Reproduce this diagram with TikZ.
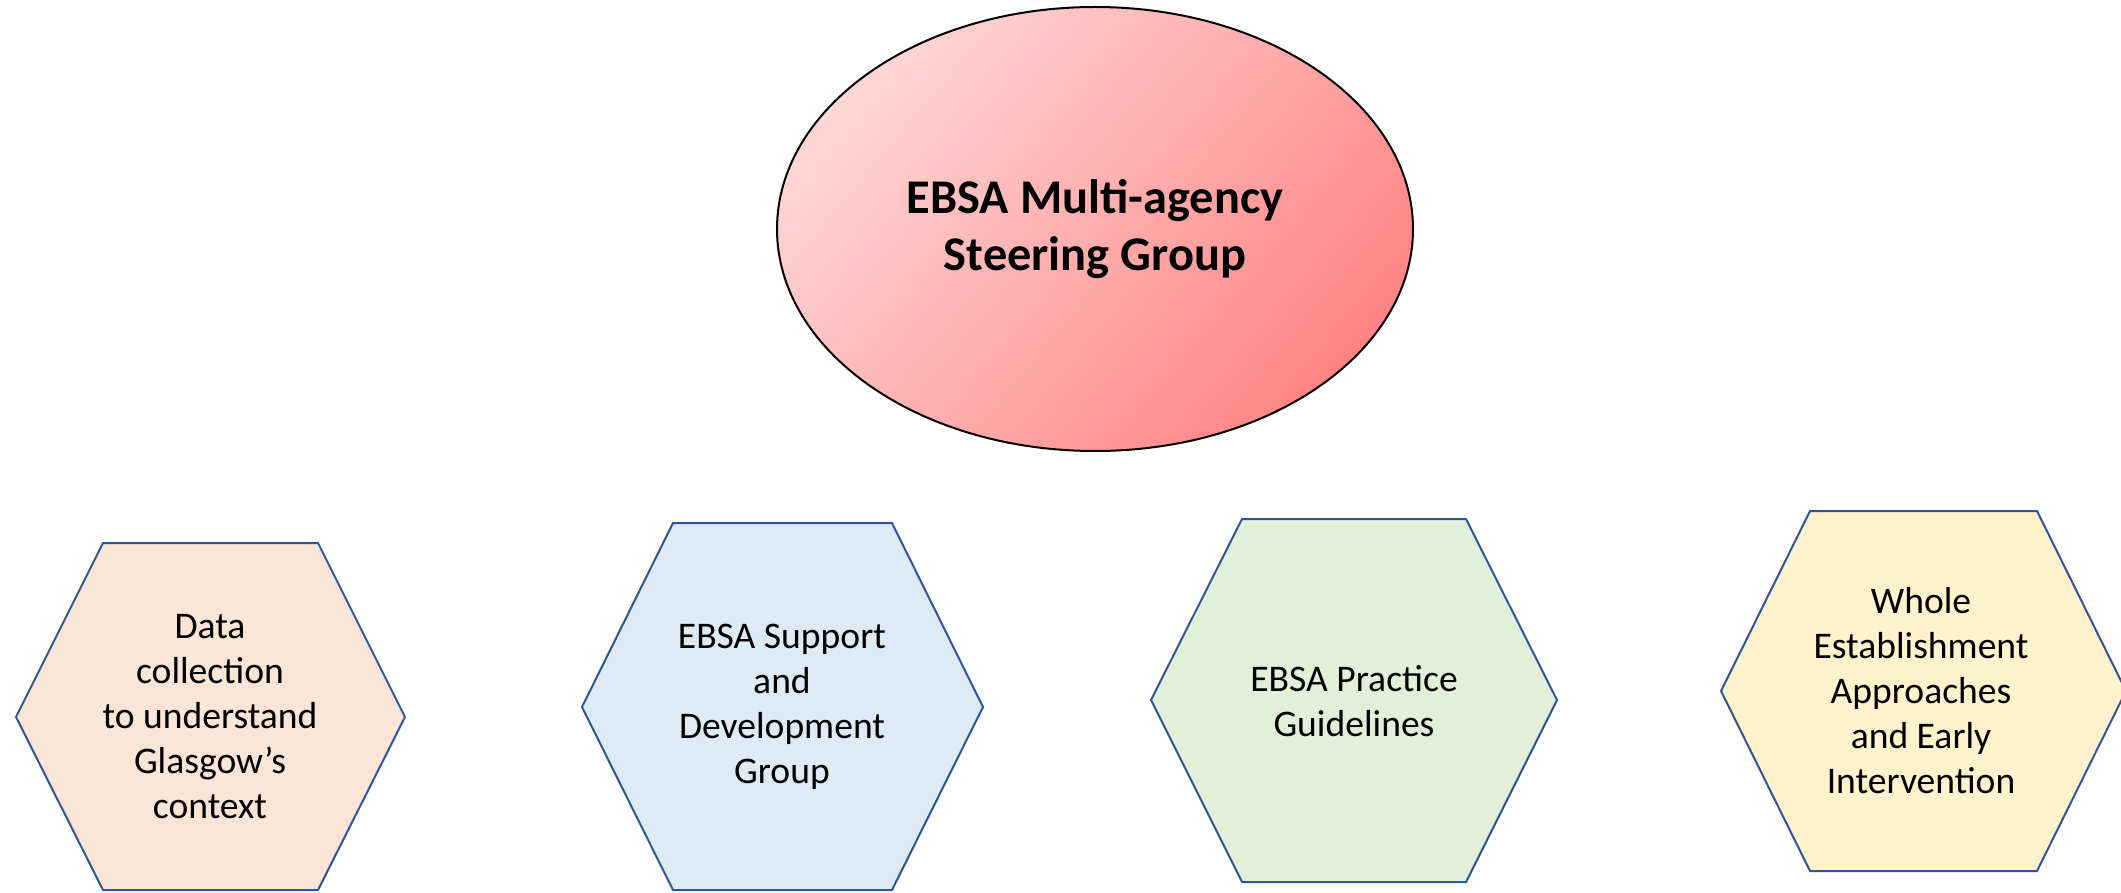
\documentclass[tikz,border=0pt]{standalone}
\usepackage{fontspec}
\setmainfont{Carlito}
\usetikzlibrary{shapes.geometric}

\definecolor{hexline}{RGB}{47,85,151}
\definecolor{peach}{RGB}{251,229,214}
\definecolor{skyblue}{RGB}{222,235,247}
\definecolor{sage}{RGB}{226,240,217}
\definecolor{cream}{RGB}{255,242,204}
\definecolor{pinklight}{RGB}{255,214,214}
\definecolor{pinkdark}{RGB}{255,132,132}

\tikzset{
  hexedge/.style={draw=hexline, line width=1pt, line join=miter},
  hexlabel/.style={align=center, font=\fontsize{18.8}{22.5}\selectfont},
}

\begin{document}
\begin{tikzpicture}[x=0.5pt, y=-0.5pt]
    \useasboundingbox (0,0) rectangle (2121,893);

    % Steering group on top
    \node[ellipse, draw, line width=1pt, inner sep=0pt,
          minimum width=318pt, minimum height=222pt,
          left color=pinklight, right color=pinkdark, shading angle=50,
          align=center, font=\fontsize{24.2}{28.5}\bfseries\selectfont]
        (steer) at (1095,229) {EBSA Multi-agency\\Steering Group};

    % The four workstreams, one hexagon each
    \filldraw[hexedge, fill=peach] (16,717) -- (103,543) -- (318,543) -- (405,717) -- (318,890) -- (103,890) -- cycle;
    \filldraw[hexedge, fill=skyblue] (582,707) -- (673,523) -- (892,523) -- (983,707) -- (892,890) -- (673,890) -- cycle;
    \filldraw[hexedge, fill=sage] (1151,700) -- (1242,519) -- (1466,519) -- (1557,700) -- (1466,882) -- (1242,882) -- cycle;
    \filldraw[hexedge, fill=cream] (1721,691) -- (1810,511) -- (2037,511) -- (2126,691) -- (2037,871) -- (1810,871) -- cycle;

    % Labels
    \node[hexlabel] (data) at (210,717) {Data\\collection\\to understand\\Glasgow’s\\context};
    \node[hexlabel] (support) at (782,707) {EBSA Support\\and\\Development\\Group};
    \node[hexlabel] (practice) at (1354,701) {EBSA Practice\\Guidelines};
    \node[hexlabel] (whole) at (1921,691) {Whole\\Establishment\\Approaches\\and Early\\Intervention};
\end{tikzpicture}
\end{document}
